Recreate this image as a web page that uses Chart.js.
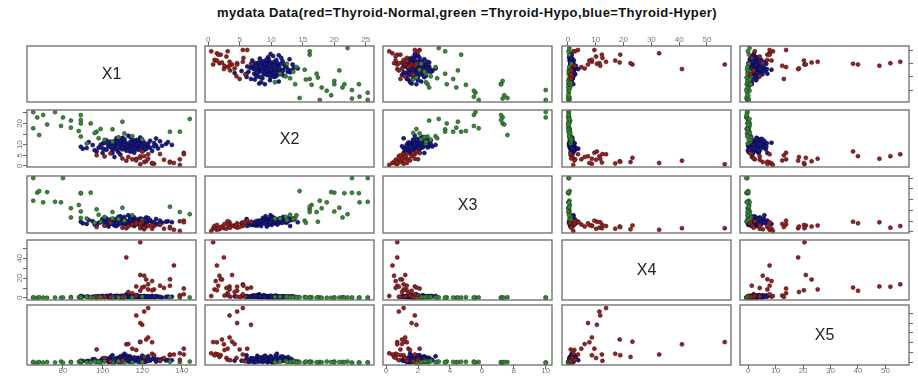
<!DOCTYPE html>
<html>
<head>
<meta charset="utf-8">
<script src="https://cdn.jsdelivr.net/npm/chart.js@4"></script>
<style>
  html, body { margin: 0; padding: 0; background: #fff; overflow: hidden; }
  #wrap { position: relative; width: 918px; height: 381px; overflow: hidden; }
  #title { position: absolute; left: 0; top: 5px; width: 934px; text-align: center;
           font: bold 13px "Liberation Sans", Arial, sans-serif; letter-spacing: 0.4px; color: #111; }
  canvas { position: absolute; }
</style>
</head>
<body>
<div id="wrap">
  <div id="title">mydata Data(red=Thyroid-Normal,green =Thyroid-Hypo,blue=Thyroid-Hyper)</div>
</div>
<script>
// variables and axes
const varNames = ['X1', 'X2', 'X3', 'X4', 'X5'];
const varRanges = [[65, 144], [0.5, 25.3], [0.2, 10.0], [0.1, 56.4], [-0.7, 56.3]];
const tickValues = [
  [80, 100, 120, 140],
  [0, 5, 10, 15, 20, 25],
  [0, 2, 4, 6, 8, 10],
  [0, 10, 20, 30, 40, 50],
  [0, 10, 20, 30, 40, 50]
];
// labels shown on the left axis (the rest are dropped by R for overlap)
const leftLabels = { 1: [0, 5, 10, 20], 3: [0, 20, 40] };

// red group
const redX1 = [119, 112, 136, 119, 121, 122, 134, 125, 123, 129, 134, 121, 117, 120, 131, 141, 123, 126, 125, 119, 113, 115, 141, 139, 117, 101, 97, 139, 110, 104];
const redX2 = [0.8, 2.5, 1.4, 3.8, 1.8, 2.2, 2.0, 1.2, 5.5, 5.6, 1.6, 4.6, 3.4, 6.8, 2.9, 6.2, 3.4, 1.0, 1.4, 4.6, 4.2, 3.1, 5.5, 3.1, 2.6, 4.5, 5.0, 0.5, 3.5, 5.9];
const redX3 = [0.7, 0.7, 0.4, 1.2, 0.5, 1.0, 0.9, 0.6, 1.1, 1.3, 0.7, 0.8, 1.8, 1.9, 0.6, 2.1, 1.2, 1.1, 1.3, 1.6, 1.0, 1.4, 1.8, 2.0, 1.5, 1.2, 0.9, 0.2, 0.8, 1.7];
const redX4 = [56.4, 41.0, 32.8, 23.2, 22.5, 18.6, 18.8, 17.0, 13.7, 12.4, 12.2, 11.3, 11.6, 10.4, 10.1, 9.5, 8.6, 8.6, 7.7, 7.2, 6.0, 4.8, 3.6, 2.6, 2.3, 1.4, 1.0, 1.9, 1.2, 0.9];
const redX5 = [20.5, 18.2, 7.8, 21.0, 5.3, 23.1, 7.0, 8.5, 55.4, 1.3, 7.8, 51.8, 47.8, 38.2, 4.2, 13.8, 25.3, 7.0, 20.3, 40.0, 18.5, 13.8, 7.8, 2.4, 12.4, 4.2, 13.0, 9.0, 2.0, 0.8];

// green group
const greenX1 = [65, 65, 67, 68, 76, 79, 80, 84, 84, 88, 89, 89, 89, 89, 92, 94, 97, 99, 98, 105, 105, 110, 111, 134, 139, 144, 70, 72, 101, 108, 115, 96, 120];
const greenX2 = [25.3, 17.7, 22.8, 14.5, 25.3, 18.8, 22.8, 21.3, 18.0, 16.4, 23.9, 21.6, 20.0, 13.8, 10.6, 20.0, 16.1, 17.4, 13.0, 11.4, 17.2, 20.8, 15.3, 16.1, 16.1, 22.1, 24.0, 19.5, 12.3, 13.5, 14.0, 15.5, 12.5];
const greenX3 = [10.0, 5.8, 7.3, 7.6, 5.6, 5.5, 10.0, 2.7, 4.4, 5.0, 7.2, 7.2, 3.8, 2.6, 2.5, 7.3, 4.2, 1.9, 3.2, 2.5, 3.7, 4.5, 2.1, 4.7, 3.7, 3.3, 5.5, 7.4, 2.8, 2.4, 3.1, 1.7, 2.2];
const greenX4 = [0.2, 0.5, 0.1, 0.6, 0.3, 0.2, 0.4, 0.8, 0.1, 0.7, 0.2, 0.3, 0.5, 1.0, 0.9, 0.1, 0.4, 0.6, 0.7, 1.1, 0.2, 0.3, 0.8, 0.4, 0.2, 0.5, 0.3, 0.1, 0.9, 0.6, 0.4, 0.7, 1.2];
const greenX5 = [-0.3, 0.2, -0.6, 0.0, -0.4, 0.5, -0.7, 0.1, -0.2, 0.3, -0.5, 0.0, 0.6, 0.9, -0.1, -0.3, 0.2, -0.6, 0.4, 0.7, -0.2, 0.1, -0.4, 0.3, -0.1, 0.5, -0.5, 0.0, 1.0, 0.8, -0.3, 0.6, 0.2];

// blue group
const blueX1 = [107, 113, 127, 109, 105, 105, 110, 114, 106, 107, 106, 110, 116, 112, 122, 109, 111, 114, 119, 115,
                101, 103, 109, 102, 121, 100, 106, 116, 105, 110, 120, 116, 110, 90, 117, 117, 113, 106, 130, 100,
                118, 124, 108, 112, 98, 95, 126, 119, 104, 111, 121, 115, 108, 123, 93, 128, 113, 102, 117, 132,
                109, 120, 97, 111, 125, 106, 114, 118, 103, 122, 89, 116, 110, 127, 104, 112, 119, 107, 133, 115,
                101, 120, 108, 124, 96, 112, 118, 105, 121, 110, 115, 103, 126, 108, 117, 111, 99, 122, 114, 107,
                129, 116, 104, 119, 113, 92, 123, 109, 135, 118, 106, 114, 120, 100, 111];
const blueX2 = [10.1, 9.9, 12.9, 5.3, 7.3, 6.1, 10.4, 9.9, 9.4, 13.0, 4.2, 11.3, 9.2, 8.1, 9.7, 8.4, 8.4, 6.7, 10.6, 7.1,
                7.8, 10.1, 10.4, 7.6, 10.1, 6.1, 9.6, 10.1, 11.1, 10.4, 8.4, 11.1, 7.8, 8.1, 12.2, 11.0, 9.0, 9.4, 9.5, 10.5,
                8.9, 11.8, 12.6, 7.2, 8.6, 9.8, 10.8, 13.4, 8.8, 11.9, 7.5, 12.4, 6.4, 9.1, 11.2, 8.2, 14.2, 12.0, 7.9, 10.3,
                9.1, 11.5, 6.8, 10.9, 7.0, 11.6, 8.7, 12.1, 9.3, 10.0, 9.0, 6.2, 13.2, 9.6, 11.4, 10.7, 9.4, 8.0, 11.2, 9.7,
                10.8, 6.9, 10.2, 8.6, 7.4, 9.5, 10.4, 8.9, 11.0, 8.6, 10.9, 9.7, 9.2, 11.7, 9.8, 12.7, 9.9, 8.0, 11.3, 7.7,
                11.6, 8.3, 10.6, 12.3, 7.4, 8.4, 10.5, 11.8, 9.9, 7.6, 10.7, 13.6, 9.0, 8.2, 10.0];
const blueX3 = [2.2, 3.1, 2.4, 1.6, 1.5, 2.1, 1.6, 2.4, 2.2, 1.1, 1.2, 2.3, 2.7, 1.9, 1.6, 2.1, 1.5, 1.5, 2.1, 1.3,
                1.2, 1.3, 1.9, 1.8, 1.7, 2.4, 2.4, 2.2, 2.0, 1.8, 1.1, 2.0, 1.9, 1.6, 1.9, 1.4, 2.0, 1.5, 1.7, 2.4,
                1.8, 2.1, 2.6, 1.4, 1.7, 2.0, 1.6, 2.5, 2.3, 2.8, 1.2, 1.7, 1.4, 2.0, 2.2, 1.5, 1.8, 2.5, 1.6, 1.9,
                2.9, 2.4, 1.3, 1.5, 1.8, 1.9, 2.6, 2.3, 1.0, 2.7, 1.9, 1.1, 2.2, 1.4, 1.7, 2.0, 1.3, 2.1, 2.0, 1.6,
                1.9, 1.7, 2.8, 2.2, 1.4, 1.8, 2.0, 1.6, 2.3, 2.1, 1.9, 1.5, 1.8, 2.4, 2.2, 2.0, 1.8, 1.5, 2.5, 1.7,
                2.1, 1.4, 2.2, 1.9, 1.6, 1.5, 2.6, 1.7, 1.8, 2.0, 2.1, 2.3, 1.6, 2.0, 2.4];
const blueX4 = [0.9, 2.0, 1.4, 1.4, 1.5, 1.4, 1.6, 1.5, 1.5, 0.9, 1.6, 0.9, 1.0, 3.7, 0.9, 1.1, 0.8, 1.0, 1.3, 1.3,
                1.0, 0.7, 0.4, 2.0, 1.3, 1.8, 1.0, 1.6, 1.0, 1.0, 1.4, 1.2, 2.1, 1.4, 1.2, 1.5, 1.8, 0.8, 0.4, 0.9,
                1.2, 1.1, 1.3, 2.3, 1.7, 1.2, 0.6, 1.5, 2.6, 0.8, 1.9, 1.0, 1.3, 1.6, 1.1, 1.2, 0.7, 1.4, 2.8, 1.0,
                1.7, 0.9, 1.5, 1.3, 2.1, 1.1, 1.8, 0.8, 1.6, 1.2, 1.9, 1.1, 1.4, 1.7, 0.6, 2.4, 1.0, 1.2, 1.3, 1.5,
                1.0, 1.6, 1.9, 0.7, 1.3, 1.1, 1.4, 1.6, 1.0, 1.8, 1.2, 1.4, 0.9, 1.1, 1.7, 0.8, 1.5, 1.4, 1.3, 2.2,
                1.1, 1.0, 1.2, 1.5, 1.9, 1.3, 0.8, 1.6, 1.2, 2.0, 1.0, 1.1, 1.3, 1.7, 1.4];
const blueX5 = [2.7, 5.9, 0.6, 1.5, -0.1, 7.0, 2.7, 5.7, 0.0, 3.1, 1.4, 3.3, 4.2, 2.0, 2.2, 3.6, 1.2, 3.5, 1.1, 2.0,
                1.7, 0.1, -0.1, 2.5, 0.1, 3.8, 1.3, 0.8, 1.0, 2.3, 1.4, 2.3, 6.4, 1.1, 3.9, 2.1, 1.6, 0.5, 3.2, 1.9,
                2.6, 1.8, 4.5, 3.0, 0.9, 2.8, 4.8, 0.4, 5.2, 1.5, 2.4, 3.4, 0.2, 6.1, 1.2, 2.9, 0.7, 3.7, 4.0, 1.6,
                2.1, 5.5, 0.6, 8.5, 3.3, 2.0, 0.3, 4.4, 1.9, 2.7, 1.3, 1.8, 3.1, 0.8, 2.4, 6.8, 1.0, 3.9, 2.2, 1.4,
                0.9, 4.1, 2.6, 1.7, 3.0, 2.5, 3.2, 1.7, 0.9, 4.6, 1.9, 2.9, 3.6, 1.2, 2.4, 5.0, 1.6, 0.5, 3.4, 2.1,
                1.3, 4.7, 0.7, 2.8, 3.7, 1.0, 1.5, 5.8, 2.0, 0.3, 3.3, 1.1, 6.6, 2.2, 4.3];

const groups = [
  { color: 'rgb(145,36,36)',  edge: 'rgb(75,14,14)', vals: [redX1, redX2, redX3, redX4, redX5] },
  { color: 'rgb(60,135,60)',  edge: 'rgb(25,68,25)', vals: [greenX1, greenX2, greenX3, greenX4, greenX5] },
  { color: 'rgb(26,26,135)',  edge: 'rgb(10,10,65)', vals: [blueX1, blueX2, blueX3, blueX4, blueX5] }
];

const M = 30;
const colLeft = [27, 205, 383, 562, 740];
const colW = 169;
const rowTop = [46, 110, 176, 240, 305];
const rowH = [56, 57, 57, 60, 60];
const FONT = '"Liberation Sans", Arial, sans-serif';

function padRange(r) {
  const d = (r[1] - r[0]) * 0.04;
  return [r[0] - d, r[1] + d];
}

function makeScale(v, pos, show, labelOf) {
  const r = padRange(varRanges[v]);
  const vertical = pos === 'left' || pos === 'right';
  return {
    type: 'linear', position: pos, display: show, min: r[0], max: r[1],
    afterBuildTicks: s => { s.ticks = tickValues[v].map(t => ({ value: t })); },
    afterFit: s => {
      if (!show) return;
      if (s.isHorizontal()) s.height = M; else s.width = M;
    },
    ticks: {
      autoSkip: false, padding: vertical ? -1.5 : 2, color: '#777',
      minRotation: vertical ? 90 : 0, maxRotation: vertical ? 90 : 0,
      crossAlign: 'center',
      font: { size: 8, family: FONT },
      callback: labelOf
    },
    grid: { drawOnChartArea: false, drawTicks: true, tickLength: 4, color: '#666', lineWidth: 1 },
    border: { display: false }
  };
}

const panelPlugin = {
  id: 'panel',
  afterDraw(chart, args, opts) {
    const { ctx, chartArea: a } = chart;
    ctx.save();
    ctx.strokeStyle = '#6a6a6a';
    ctx.lineWidth = 1.3;
    ctx.strokeRect(a.left, a.top, a.right - a.left, a.bottom - a.top);
    if (opts.label) {
      ctx.fillStyle = '#222';
      ctx.font = '16px ' + FONT;
      ctx.textAlign = 'center';
      ctx.textBaseline = 'middle';
      ctx.fillText(opts.label, (a.left + a.right) / 2, (a.top + a.bottom) / 2 + 1);
    }
    ctx.restore();
  }
};

const wrap = document.getElementById('wrap');

for (let i = 0; i < 5; i++) {
  for (let j = 0; j < 5; j++) {
    const c = document.createElement('canvas');
    c.width = colW + 2 * M;
    c.height = rowH[i] + 2 * M;
    c.style.left = (colLeft[j] - M) + 'px';
    c.style.top = (rowTop[i] - M) + 'px';
    wrap.appendChild(c);

    const topX = i === 0 && (j === 1 || j === 3);
    const bottomX = i === 4 && j % 2 === 0;
    const leftY = j === 0 && (i === 1 || i === 3);
    const rightY = j === 4 && i % 2 === 0;

    const xScale = makeScale(j, topX ? 'top' : 'bottom', topX || bottomX, v => v);
    const yScale = makeScale(i, rightY ? 'right' : 'left', leftY || rightY,
      v => (leftY && leftLabels[i].includes(v)) ? String(v) : '');

    const datasets = i === j ? [] : groups.map(g => ({
      data: g.vals[j].map((x, k) => ({ x: x, y: g.vals[i][k] })),
      pointRadius: 2,
      pointBorderWidth: 0.6,
      pointBackgroundColor: g.color,
      pointBorderColor: g.edge
    }));

    new Chart(c, {
      type: 'scatter',
      data: { datasets },
      options: {
        responsive: false,
        animation: false,
        events: [],
        layout: {
          padding: {
            top: topX ? 0 : M,
            bottom: bottomX ? 0 : M,
            left: leftY ? 0 : M,
            right: rightY ? 0 : M
          }
        },
        scales: { x: xScale, y: yScale },
        plugins: {
          legend: { display: false },
          tooltip: { enabled: false },
          panel: { label: i === j ? varNames[i] : '' }
        }
      },
      plugins: [panelPlugin]
    });
  }
}
</script>
</body>
</html>
